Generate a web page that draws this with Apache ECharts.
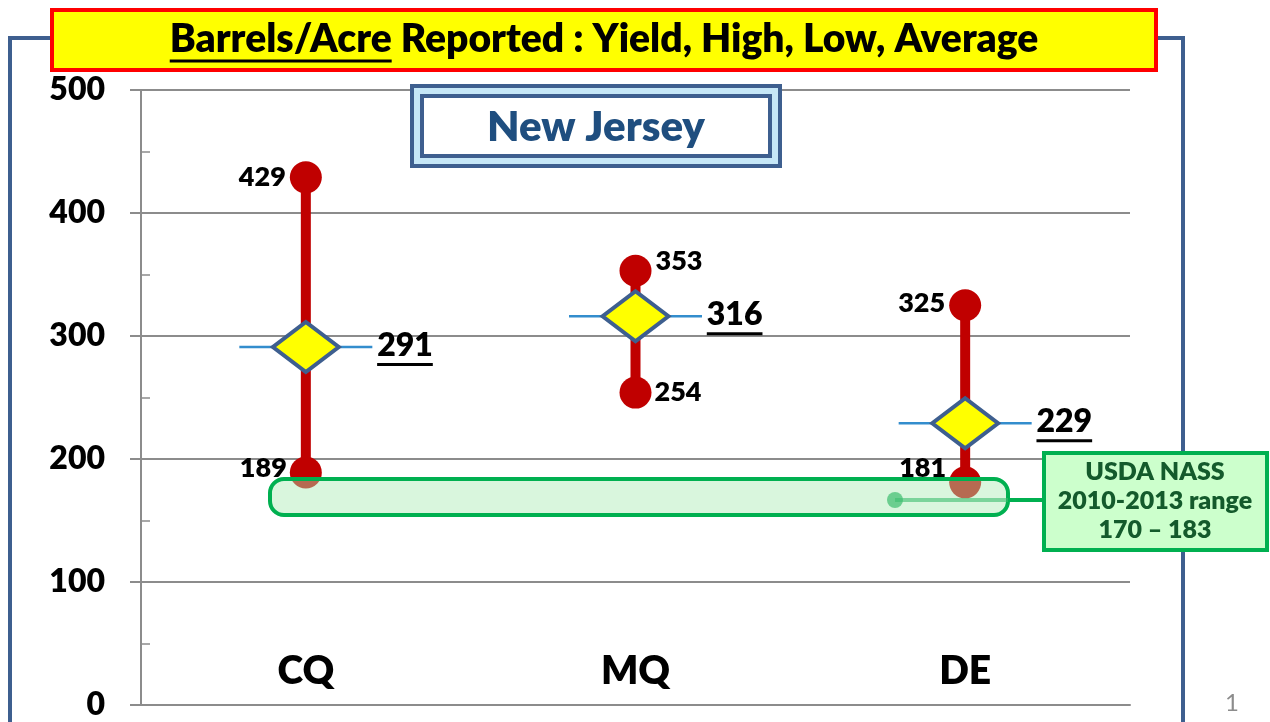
<!DOCTYPE html>
<html>
<head>
<meta charset="utf-8">
<script src="https://cdn.jsdelivr.net/npm/echarts@6/dist/echarts.min.js"></script>
<style>
  html, body { margin: 0; padding: 0; background: #fff; }
  #chart { width: 1270px; height: 722px; }
</style>
</head>
<body>
<div id="chart"></div>
<script>
// data
const categories = ['CQ', 'MQ', 'DE'];
const highValues = [429, 353, 325];
const lowValues = [189, 254, 181];
const avgValues = [291, 316, 229];
const nassRange = [170, 183];
const stateName = 'New Jersey';

const FONT = 'Lato';
const W = 800; // heavy weight, closer to the slide's bold face
const chart = echarts.init(document.getElementById('chart'));

// label placement per point (left / right of the dot)
const highSide = ['left', 'right', 'left'];
const lowSide = ['left', 'right', 'left'];
const lowShift = [[0, -4], [0, 0], [0, -14]];
const highShift = [[0, 0], [0, -10], [0, -2]];

const measure = (txt, font) => {
    const ctx = document.createElement('canvas').getContext('2d');
    ctx.font = font;
    return ctx.measureText(txt).width;
};

const titleFont = W + ' 39px ' + FONT;
const titleLead = 'Barrels/Acre';
const titleRest = ' Reported : Yield, High, Low, Average';
const titleW = measure(titleLead + titleRest, titleFont);
const leadW = measure(titleLead, titleFont);
const titleX = 604 - titleW / 2;

const avgFont = 32;
const avgUnder = (v) => measure(String(v), W + ' ' + avgFont + 'px ' + FONT);

const option = {
    animation: false,
    grid: { left: 141, right: 140, top: 90, bottom: 17 },
    xAxis: {
        type: 'category',
        data: categories,
        axisLine: { lineStyle: { color: '#8c8c8c', width: 2 } },
        axisTick: { show: false },
        axisLabel: {
            inside: true, margin: 14,
            color: '#000', fontFamily: FONT, fontWeight: W, fontSize: 39
        },
        splitLine: { show: false }
    },
    yAxis: [{
        type: 'value', min: 0, max: 500, interval: 100,
        axisLine: { show: true, lineStyle: { color: '#8c8c8c', width: 2 } },
        axisTick: { show: true, length: 11, lineStyle: { color: '#8c8c8c', width: 2 } },
        axisLabel: { margin: 36, color: '#000', fontFamily: FONT, fontWeight: W, fontSize: 32 },
        splitLine: { show: true, lineStyle: { color: '#8c8c8c', width: 2 } }
    }, {
        // inner minor ticks every 50
        type: 'value', min: 0, max: 500, interval: 50, position: 'left',
        axisLine: { show: false },
        axisTick: { show: true, inside: true, length: 9, lineStyle: { color: '#8c8c8c', width: 1.5 } },
        axisLabel: { show: false },
        splitLine: { show: false }
    }],
    series: [
        {
            type: 'custom',
            z: 2,
            data: categories.map((c, i) => [i, lowValues[i], highValues[i]]),
            renderItem: (params, api) => {
                const p1 = api.coord([api.value(0), api.value(1)]);
                const p2 = api.coord([api.value(0), api.value(2)]);
                return {
                    type: 'line',
                    shape: { x1: p1[0], y1: p1[1], x2: p2[0], y2: p2[1] },
                    style: { stroke: '#c00000', lineWidth: 10 }
                };
            }
        },
        {
            type: 'scatter', name: 'avg line', z: 3,
            symbol: 'rect', symbolSize: [133, 2.5],
            itemStyle: { color: '#0070c0' },
            data: avgValues
        },
        {
            type: 'scatter', name: 'High', z: 4,
            symbol: 'circle', symbolSize: 32,
            itemStyle: { color: '#c00000', opacity: 1 },
            data: highValues.map((v, i) => ({
                value: v,
                label: { position: highSide[i], offset: highShift[i] }
            })),
            label: {
                show: true, distance: 4, color: '#000',
                fontFamily: FONT, fontWeight: W, fontSize: 27
            }
        },
        {
            type: 'scatter', name: 'Low', z: 4,
            symbol: 'circle', symbolSize: 32,
            itemStyle: { color: '#c00000', opacity: 1 },
            data: lowValues.map((v, i) => ({
                value: v,
                label: { position: lowSide[i], offset: lowShift[i] }
            })),
            label: {
                show: true, distance: 3, color: '#000',
                fontFamily: FONT, fontWeight: W, fontSize: 27
            }
        },
        {
            type: 'scatter', name: 'Average', z: 5,
            symbol: 'diamond', symbolSize: [66, 50],
            itemStyle: { color: '#ffff00', borderColor: '#3e5f8f', borderWidth: 4, opacity: 1 },
            data: avgValues,
            label: {
                show: true, position: 'right', distance: 36, offset: [0, 0],
                formatter: (p) => '{v|' + p.value + '}\n{u| }',
                rich: {
                    v: { color: '#000', fontFamily: FONT, fontWeight: W, fontSize: avgFont, lineHeight: 35 },
                    u: { width: avgUnder(avgValues[0]), height: 3, lineHeight: 3, fontSize: 2, backgroundColor: '#000' }
                }
            }
        }
    ],
    graphic: [
        // slide frame
        { type: 'polyline', z: 0, shape: { points: [[10, 722], [10, 38], [60, 38]] },
          style: { stroke: '#3e5f8f', lineWidth: 4, fill: null } },
        { type: 'polyline', z: 0, shape: { points: [[1150, 38], [1183, 38], [1183, 722]] },
          style: { stroke: '#3e5f8f', lineWidth: 4, fill: null } },
        // title box
        { type: 'rect', z: 20, shape: { x: 52, y: 10, width: 1104, height: 60 },
          style: { fill: '#ffff00', stroke: '#ff0000', lineWidth: 4 } },
        { type: 'text', z: 21, left: titleX, top: 20,
          style: { text: titleLead + titleRest, font: titleFont, fill: '#000' } },
        { type: 'rect', z: 21, shape: { x: titleX, y: 59.5, width: leadW, height: 3 },
          style: { fill: '#000' } },
        // state box
        { type: 'rect', z: 20, shape: { x: 412, y: 86, width: 368, height: 80 },
          style: { fill: '#c6e7f7', stroke: '#3e5f8f', lineWidth: 4 } },
        { type: 'rect', z: 21, shape: { x: 422, y: 96, width: 348, height: 60 },
          style: { fill: '#ffffff', stroke: '#3e5f8f', lineWidth: 4 } },
        { type: 'text', z: 22, x: 596, y: 127,
          style: { text: stateName, font: W + ' 42px ' + FONT, fill: '#1f4e7f', align: 'center', verticalAlign: 'middle' } },
        // NASS band + callout
        { type: 'rect', z: 30, shape: { x: 270, y: 479, width: 738, height: 36, r: 14 },
          style: { fill: 'rgba(170,235,180,0.45)', stroke: '#00b050', lineWidth: 4 } },
        { type: 'line', z: 31, shape: { x1: 895, y1: 500, x2: 1008, y2: 500 },
          style: { stroke: 'rgba(60,190,110,0.6)', lineWidth: 4 } },
        { type: 'line', z: 31, shape: { x1: 1008, y1: 500, x2: 1044, y2: 500 },
          style: { stroke: '#00b050', lineWidth: 4 } },
        { type: 'circle', z: 31, shape: { cx: 895, cy: 500, r: 8 },
          style: { fill: 'rgba(60,190,110,0.7)' } },
        { type: 'rect', z: 32, shape: { x: 1044, y: 453, width: 223, height: 97 },
          style: { fill: '#ccffcc', stroke: '#00b050', lineWidth: 4 } },
        { type: 'text', z: 33, x: 1155, y: 501,
          style: {
              text: 'USDA NASS\n2010-2013 range\n' + nassRange[0] + ' \u2013 ' + nassRange[1],
              font: W + ' 25px ' + FONT, lineHeight: 29, fill: '#145a2c',
              align: 'center', verticalAlign: 'middle'
          } },
        // page number
        { type: 'text', z: 5, x: 1232, y: 703,
          style: { text: '1', font: '24px ' + FONT, fill: '#8c8c8c', align: 'center', verticalAlign: 'middle' } }
    ]
};

chart.setOption(option);
</script>
</body>
</html>
